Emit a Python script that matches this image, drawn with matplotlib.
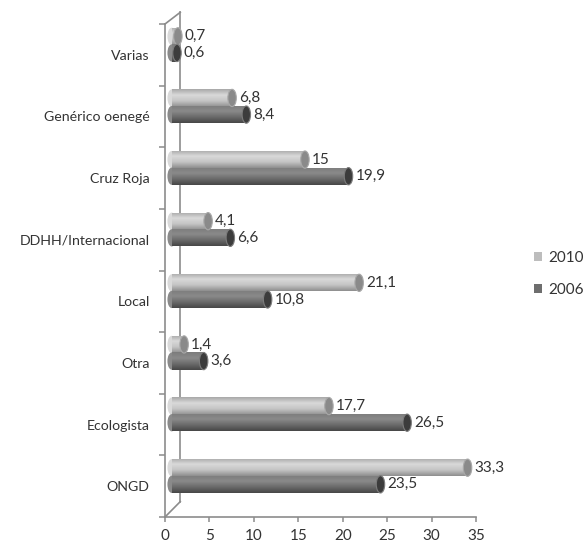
# barras horizontales tipo cilindro, 2006 vs 2010 por tipo de organización
import numpy as np
import matplotlib
matplotlib.use("Agg")
import matplotlib.pyplot as plt
from matplotlib.patches import Ellipse, Patch

plt.rcParams['font.family'] = ['Lato', 'DejaVu Sans']

categorias = ["ONGD", "Ecologista", "Otra", "Local", "DDHH/Internacional",
              "Cruz Roja", "Genérico oenegé", "Varias"]
v2010 = [33.3, 17.7, 1.4, 21.1, 4.1, 15, 6.8, 0.7]
v2006 = [23.5, 26.5, 3.6, 10.8, 6.6, 19.9, 8.4, 0.6]
series = [("2010", v2010), ("2006", v2006)]

# colores: base, degradado (arriba -> abajo), tapa
estilos = {
    "2010": dict(base="#bdbdbd", c=["#a8a8a8", "#d9d9d9", "#c4c4c4", "#8e8e8e"], tapa="#8a8a8a"),
    "2006": dict(base="#6e6e6e", c=["#7c7c7c", "#8a8a8a", "#6a6a6a", "#474747"], tapa="#3c3c3c"),
}
desplaz = {"2010": 0.30, "2006": 0.03}   # centro de cada barra respecto al centro de la categoría
alto = 0.28
x0 = 0.75       # las barras arrancan dentro de la profundidad
cap_w = 0.95
texto = "#333333"

fig = plt.figure(figsize=(5.84, 5.43), dpi=100)
ax = fig.add_axes([165 / 584, 26 / 543, 311 / 584, 493 / 543])
ax.set_xlim(0, 35)
ax.set_ylim(0, 8)

y = np.arange(len(categorias)) + 0.5


def gradiente(cols, n=60):
    pts = np.linspace(0, 1, len(cols))
    rgb = np.array([matplotlib.colors.to_rgb(c) for c in cols])
    t = np.linspace(0, 1, n)
    return np.stack([np.interp(t, pts, rgb[:, k]) for k in range(3)], axis=1)[:, None, :]


for nombre, vals in series:
    st = estilos[nombre]
    yy = y + desplaz[nombre]
    bars = ax.barh(yy, vals, left=x0, height=alto, color=st["base"],
                   edgecolor="none", zorder=3)
    img = gradiente(st["c"])
    for b, yc, v in zip(bars, yy, vals):
        # sombreado de cilindro recortado a la barra
        im = ax.imshow(img, extent=[x0, x0 + v, yc - alto / 2, yc + alto / 2],
                       aspect="auto", origin="upper", zorder=4, interpolation="bilinear")
        im.set_clip_path(b)
        ax.add_patch(Ellipse((x0, yc), cap_w, alto, facecolor=st["c"][1],
                             edgecolor="none", zorder=2.9))
        ax.add_patch(Ellipse((x0 + v, yc), cap_w, alto, facecolor=st["tapa"],
                             edgecolor=st["c"][0], lw=0.8, zorder=5))
        txt = f"{v:g}".replace(".", ",")
        ax.text(x0 + v + cap_w / 2 + 0.3, yc, txt, va="center", ha="left",
                fontsize=11, color=texto, zorder=6)

ax.set_xlim(0, 35)
ax.set_ylim(0, 8)

# pared lateral en perspectiva
gris = "#8c8c8c"
dx, dy_top, dy_bot = 1.72, 0.19, 0.25
ax.plot([0, dx], [8, 8 + dy_top], color=gris, lw=1.2, clip_on=False, zorder=1)
ax.plot([0, dx], [0, dy_bot], color=gris, lw=1.2, clip_on=False, zorder=1)
ax.plot([dx, dx], [dy_bot, 8 + dy_top], color=gris, lw=1.2, clip_on=False, zorder=1)

for s in ["top", "right"]:
    ax.spines[s].set_visible(False)
for s in ["left", "bottom"]:
    ax.spines[s].set_color(gris)
    ax.spines[s].set_linewidth(1.2)

ax.set_xticks(np.arange(0, 36, 5))
ax.tick_params(axis="x", direction="out", length=3.5, width=1.1, color=gris,
               labelsize=11, labelcolor=texto, pad=5)
ax.set_yticks(np.arange(0, 9))
ax.set_yticklabels([])
ax.set_yticks(y, minor=True)
ax.set_yticklabels(categorias, minor=True)
ax.tick_params(axis="y", which="major", direction="out", length=4.3, width=1.1, color=gris)
ax.tick_params(axis="y", which="minor", length=0, pad=11, labelsize=10.2,
               labelcolor=texto)

handles = [Patch(facecolor=estilos[n]["base"], edgecolor="none") for n, _ in series]
fig.legend(handles, [n for n, _ in series], loc="center left",
           bbox_to_anchor=(534 / 584, 1 - 274 / 543), frameon=False,
           borderpad=0, borderaxespad=0,
           handlelength=0.5, handleheight=0.5, handletextpad=0.45,
           labelspacing=1.2, fontsize=11, labelcolor=texto)

fig.savefig("out.png", dpi=100)
